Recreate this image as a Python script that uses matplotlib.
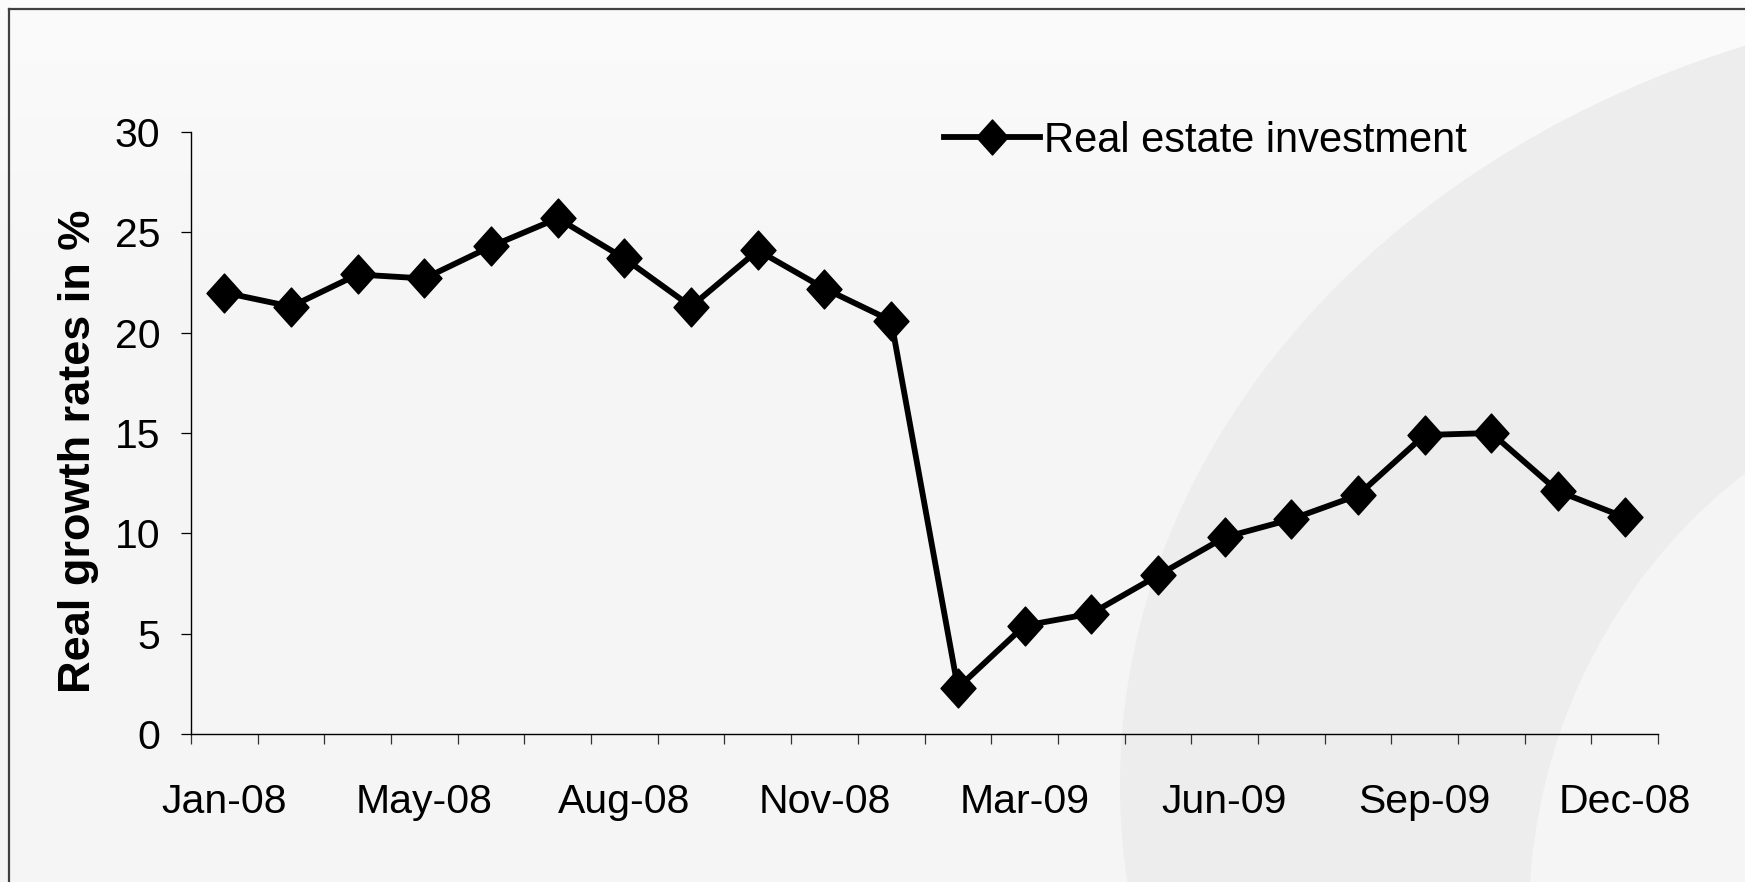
import matplotlib
matplotlib.use("Agg")
import matplotlib.pyplot as plt
import numpy as np
from matplotlib.patches import Ellipse
from matplotlib.lines import Line2D
from matplotlib.path import Path

plt.rcParams['font.family'] = ['Liberation Sans', 'DejaVu Sans']

categories = ["Jan-08", "Mar-08", "Apr-08", "May-08", "Jun-08", "Jul-08", "Aug-08",
              "Sep-08", "Oct-08", "Nov-08", "Dec-08", "Feb-09", "Mar-09", "Apr-09",
              "May-09", "Jun-09", "Jul-09", "Aug-09", "Sep-09", "Oct-09", "Nov-09", "Dec-08"]
values = [22.0, 21.3, 22.9, 22.7, 24.3, 25.7, 23.7, 21.3, 24.1, 22.2, 20.6,
          2.3, 5.4, 6.0, 7.9, 9.8, 10.7, 11.9, 14.9, 15.0, 12.1, 10.8]
series_name = "Real estate investment"
y_ticks = [0, 5, 10, 15, 20, 25, 30]
label_step = 3

W, H = 1745, 882
fig = plt.figure(figsize=(W / 100, H / 100), dpi=100)
fig.patch.set_facecolor("#f5f5f5")

# background decoration
bg = fig.add_axes([0, 0, 1, 1], zorder=-10)
bg.set_xlim(0, W)
bg.set_ylim(H, 0)
bg.axis("off")
grad = np.linspace(0, 1, 300).reshape(-1, 1)
gcol = np.ones((300, 1, 3))
shade = 0.985 - (0.985 - 0.961) * grad
gcol[..., 0] = shade
gcol[..., 1] = shade
gcol[..., 2] = shade
bg.imshow(gcol, extent=[0, W, 330, 0], aspect="auto", zorder=0)
bg.add_patch(Ellipse((2085, 785), 2 * 965, 2 * 790, facecolor="#ededed",
                     edgecolor="none", zorder=1))
bg.add_patch(Ellipse((2074, 918), 2 * 545, 2 * 558, facecolor="#f5f5f5",
                     edgecolor="none", zorder=2))
bg.add_line(Line2D([9, 9], [9, H + 5], color="#404040", lw=1.6, zorder=5))
bg.add_line(Line2D([9, W + 5], [9, 9], color="#404040", lw=1.6, zorder=5))

ax = fig.add_axes([191 / W, 1 - 734 / H, (1658 - 191) / W, (734 - 132) / H])
ax.patch.set_alpha(0)

x = np.arange(len(categories))
diamond = Path([(0, 1), (0.9, 0), (0, -1), (-0.9, 0), (0, 1)],
               [Path.MOVETO, Path.LINETO, Path.LINETO, Path.LINETO, Path.CLOSEPOLY])
ax.plot(x, values, color="black", lw=4.2, marker=diamond, markersize=28,
        markerfacecolor="black", markeredgecolor="black", label=series_name,
        solid_joinstyle="round")

ax.set_xlim(-0.5, len(categories) - 0.5)
ax.set_ylim(0, 30)
for s in ["top", "right"]:
    ax.spines[s].set_visible(False)
for s in ["left", "bottom"]:
    ax.spines[s].set_linewidth(1.0)
    ax.spines[s].set_color("black")

ax.set_yticks(y_ticks)
ax.set_yticklabels([str(v) for v in y_ticks])
ax.tick_params(axis="y", direction="out", length=7, width=0.9, pad=15,
               labelsize=29.5, colors="black")

ax.set_xticks(x[::label_step])
ax.set_xticklabels(categories[::label_step])
ax.set_xticks(np.arange(-0.5, len(categories), 1.0), minor=True)
ax.tick_params(axis="x", which="major", length=0, pad=35, labelsize=29.5)
ax.tick_params(axis="x", which="minor", direction="out", length=7, width=0.9,
               color="#333333")

fig.text(79 / W, 1 - 451 / H, "Real growth rates in %", rotation=90,
         fontsize=32.5, fontweight="bold", ha="center", va="center")

leg = ax.legend(loc="center left", bbox_to_anchor=(944 / W, 1 - 141 / H),
                bbox_transform=fig.transFigure, frameon=False, fontsize=30,
                borderpad=0, borderaxespad=0, handlelength=2.3,
                handletextpad=0.1, markerscale=0.9)

fig.savefig("out.png", dpi=100, facecolor=fig.get_facecolor())
